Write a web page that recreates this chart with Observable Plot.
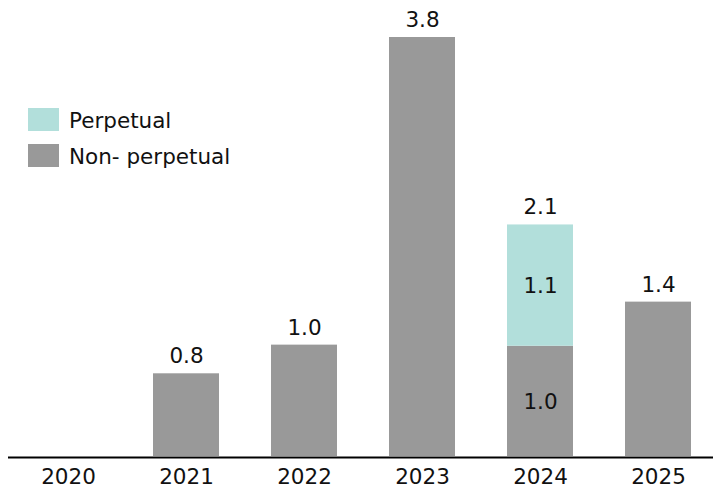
<!DOCTYPE html>
<html>
<head>
<meta charset="utf-8">
<script src="https://cdn.jsdelivr.net/npm/d3@7"></script>
<script src="https://cdn.jsdelivr.net/npm/@observablehq/plot@0.6"></script>
<style>
  html, body { margin: 0; padding: 0; background: #fff; }
  #wrap { position: relative; width: 713px; height: 489px; font-family: "DejaVu Sans", Verdana, sans-serif; }
  #legend { position: absolute; left: 28px; top: 108px; font-size: 21.5px; color: #111; }
  .item { display: flex; align-items: center; height: 23px; margin-bottom: 13px; }
  .sw { width: 31px; height: 23px; margin-right: 10px; flex: none; }
  .item span { position: relative; top: 1px; }
</style>
</head>
<body>
<div id="wrap"><div id="legend"></div></div>
<script>
const years = ["2020", "2021", "2022", "2023", "2024", "2025"];
const seriesNames = ["Perpetual", "Non- perpetual"];
const seriesColors = ["#b2dfdb", "#999999"];
const nonPerpetual = [null, 0.75, 1.01, 3.8, 1.0, 1.4];
const perpetual = [null, null, null, null, 1.1, null];

const rows = [];
years.forEach((y, i) => {
  if (nonPerpetual[i] != null) rows.push({year: y, series: seriesNames[1], value: nonPerpetual[i], order: 0});
  if (perpetual[i] != null) rows.push({year: y, series: seriesNames[0], value: perpetual[i], order: 1});
});
const totals = years.map((y, i) => ({year: y, total: (nonPerpetual[i] || 0) + (perpetual[i] || 0)}))
  .filter(d => d.total > 0);
const stackedYears = years.filter((y, i) => perpetual[i] != null);
const inner = rows.filter(d => stackedYears.includes(d.year));

const chart = Plot.plot({
  width: 713,
  height: 489,
  marginLeft: 8,
  marginRight: 0,
  marginTop: 37,
  marginBottom: 33,
  style: {fontFamily: "'DejaVu Sans', Verdana, sans-serif", fontSize: "21.5px", color: "#111", background: "#fff"},
  x: {domain: years, range: [8, 717], paddingInner: 0.442, paddingOuter: 0.221, label: null},
  y: {domain: [0, 3.8], axis: null},
  color: {domain: seriesNames, range: seriesColors},
  marks: [
    Plot.barY(rows, Plot.stackY({x: "year", y: "value", fill: "series", order: "order"})),
    Plot.text(inner, Plot.stackY({x: "year", y: "value", order: "order", text: d => d.value.toFixed(1), fill: "#111", fontSize: 21.5, dy: 1})),
    Plot.text(totals, {x: "year", y: "total", text: d => d.total.toFixed(1), dy: -17.5, fill: "#111", fontSize: 21.5}),
    Plot.ruleY([0], {stroke: "#000", strokeWidth: 2, dy: 1}),
    Plot.axisX({tickSize: 0, tickPadding: 12, fontSize: 21.5, fill: "#111", label: null})
  ]
});
document.getElementById("wrap").prepend(chart);

const legend = document.getElementById("legend");
seriesNames.forEach((name, i) => {
  const item = document.createElement("div");
  item.className = "item";
  const sw = document.createElement("div");
  sw.className = "sw";
  sw.style.background = seriesColors[i];
  const label = document.createElement("span");
  label.textContent = name;
  item.append(sw, label);
  legend.append(item);
});
</script>
</body>
</html>
